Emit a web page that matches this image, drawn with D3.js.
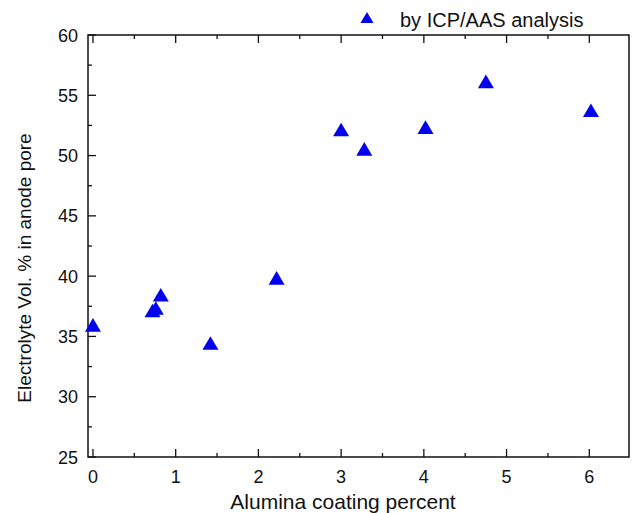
<!DOCTYPE html>
<html lang="en">
<head>
  <meta charset="UTF-8">
  <script src="https://d3js.org/d3.v7.min.js"></script>
  <title>Electrolyte vs alumina</title>
  <style>
    body { margin: 0; background: #fff; }
    text { font-family: "Liberation Sans", Arial, sans-serif; fill: #111; }
  </style>
</head>
<body>
<svg width="632" height="513"></svg>
<script>
  // data
  var alumina = [0, 0.72, 0.76, 0.82, 1.42, 2.22, 3.0, 3.28, 4.02, 4.75, 6.02];
  var electrolyte = [35.9, 37.1, 37.3, 38.4, 34.4, 39.8, 52.1, 50.5, 52.3, 56.1, 53.7];
  var xTicks = [0, 1, 2, 3, 4, 5, 6];
  var yTicks = [25, 30, 35, 40, 45, 50, 55, 60];
  var legendLabel = "by ICP/AAS analysis";

  var svg = d3.select("svg");
  var box = {left: 88, right: 629, top: 35, bottom: 457};

  var x = d3.scaleLinear().domain([-0.06, 6.48]).range([box.left, box.right]);
  var y = d3.scaleLinear().domain([25, 60]).range([box.bottom, box.top]);

  var g = svg.append("g");

  // frame
  g.append("rect")
    .attr("x", box.left).attr("y", box.top)
    .attr("width", box.right - box.left).attr("height", box.bottom - box.top)
    .attr("fill", "none").attr("stroke", "#111").attr("stroke-width", 1.5);

  var xMinor = d3.range(0.5, 6.5, 1);
  var yMinor = d3.range(27.5, 60, 5);

  function tickLines(vals, len, axis) {
    vals.forEach(function(v) {
      if (axis === "x") {
        g.append("line").attr("x1", x(v)).attr("x2", x(v))
          .attr("y1", box.bottom).attr("y2", box.bottom - len)
          .attr("stroke", "#111").attr("stroke-width", 1.3);
        g.append("line").attr("x1", x(v)).attr("x2", x(v))
          .attr("y1", box.top).attr("y2", box.top + len)
          .attr("stroke", "#111").attr("stroke-width", 1.3);
      } else {
        g.append("line").attr("x1", box.left).attr("x2", box.left + len)
          .attr("y1", y(v)).attr("y2", y(v))
          .attr("stroke", "#111").attr("stroke-width", 1.3);
      }
    });
  }
  tickLines(xTicks, 8, "x");
  tickLines(xMinor, 4, "x");
  tickLines(yTicks, 8, "y");
  tickLines(yMinor, 4, "y");

  // tick labels
  g.selectAll(".xl").data(xTicks).enter().append("text")
    .attr("x", function(d) { return x(d); })
    .attr("y", box.bottom + 26)
    .attr("text-anchor", "middle")
    .attr("font-size", 18)
    .text(function(d) { return d; });

  g.selectAll(".yl").data(yTicks).enter().append("text")
    .attr("x", box.left - 10)
    .attr("y", function(d) { return y(d) + 6.5; })
    .attr("text-anchor", "end")
    .attr("font-size", 18)
    .text(function(d) { return d; });

  // axis titles
  svg.append("text")
    .attr("x", 343).attr("y", 509)
    .attr("text-anchor", "middle")
    .attr("font-size", 21)
    .text("Alumina coating percent");

  svg.append("text")
    .attr("transform", "translate(31,268) rotate(-90)")
    .attr("text-anchor", "middle")
    .attr("font-size", 19)
    .text("Electrolyte Vol. % in anode pore");

  // markers
  var tri = function(cx, cy, s) {
    var h = s * 0.85;
    return "M" + cx + "," + (cy - h * 0.55) +
      "L" + (cx + s / 2) + "," + (cy + h * 0.45) +
      "L" + (cx - s / 2) + "," + (cy + h * 0.45) + "Z";
  };

  g.selectAll(".pt").data(alumina).enter().append("path")
    .attr("d", function(d, i) { return tri(x(d), y(electrolyte[i]), 16); })
    .attr("fill", "#0000ee");

  // legend
  svg.append("path").attr("d", tri(367, 18, 13)).attr("fill", "#0000ee");
  svg.append("text")
    .attr("x", 400).attr("y", 27)
    .attr("font-size", 20)
    .text(legendLabel);
</script>
</body>
</html>
